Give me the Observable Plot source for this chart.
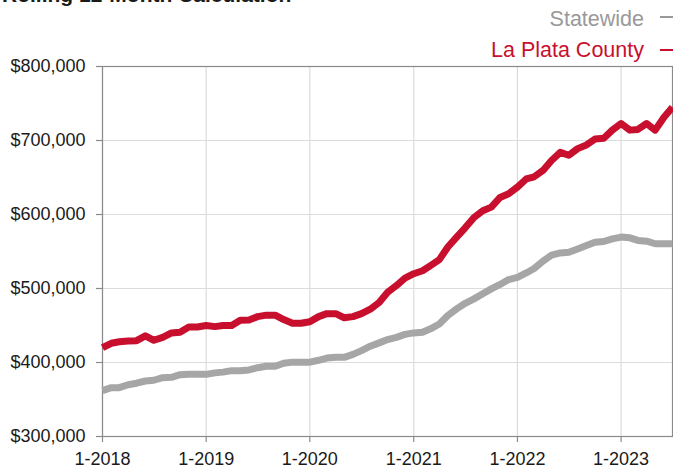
<!DOCTYPE html>
<html>
<head>
<meta charset="utf-8">
<script src="https://cdn.jsdelivr.net/npm/d3@7"></script>
<script src="https://cdn.jsdelivr.net/npm/@observablehq/plot@0.6"></script>
<style>
  html, body { margin: 0; padding: 0; background: #fff; }
  body { width: 673px; height: 468px; overflow: hidden; position: relative; font-family: "Liberation Sans", Arial, sans-serif; }
  #chart { position: absolute; left: 0; top: 0; z-index: 0; }
  #title { position: absolute; left: 2px; top: -17px; font-size: 21px; font-weight: bold; color: #1a1a1a; white-space: nowrap; z-index: 2; }
  .leg { position: absolute; right: 29px; font-size: 21.5px; white-space: nowrap; line-height: 1; z-index: 2; }
  .dash { position: absolute; left: 660px; width: 20px; height: 2px; z-index: 2; }
</style>
</head>
<body>
<div id="chart"></div>
<div id="title">Rolling 12-Month Calculation</div>
<div class="leg" style="top:9px;color:#999999;">Statewide</div>
<div class="dash" style="top:16px;background:#999999;"></div>
<div class="leg" style="top:40px;color:#c8102e;">La Plata County</div>
<div class="dash" style="top:49px;background:#c8102e;"></div>
<script>
// Months: 1-2018 through 7-2023
const months = d3.utcMonth.range(new Date(Date.UTC(2018, 0, 1)), new Date(Date.UTC(2023, 7, 1)));

const laPlata = [
  420000, 426000, 428000, 429000, 429500, 436000, 430000, 434000, 440000, 441000, 448000, 448000,
  450000, 448500, 450000, 450000, 457000, 457500, 462000, 464000, 464000, 458000, 453000, 453000,
  455000, 462000, 466000, 466000, 460500, 462000, 466000, 472000, 481000, 495000, 504000, 514000,
  520000, 524000, 531000, 539000, 556000, 569500, 582000, 596000, 605000, 610000, 623000, 628000,
  637000, 648000, 651000, 659500, 673000, 684000, 680000, 689000, 694000, 702000, 703000, 714000,
  723000, 714000, 715000, 723000, 714000, 731500, 745000
];

const statewide = [
  362000, 366000, 366000, 370000, 372000, 375000, 376000, 379500, 380000, 383500, 384000, 384000,
  384000, 386000, 387000, 389000, 389000, 390000, 393000, 395000, 395000, 399000, 400500, 400500,
  400500, 403000, 406000, 407000, 407000, 411000, 416000, 422000, 426500, 431000, 434000, 438000,
  440000, 441000, 445500, 452000, 463500, 472500, 480000, 486000, 493000, 499500, 505500, 512000,
  515000, 521000, 527000, 537000, 545000, 548000, 549000, 553500, 558000, 562500, 563500, 567000,
  569500, 568500, 565000, 564000, 560500, 560500, 560500
];

const yTicks = [300000, 400000, 500000, 600000, 700000, 800000];
const xTicks = [2018, 2019, 2020, 2021, 2022, 2023].map(y => new Date(Date.UTC(y, 0, 1)));

const stateData = months.map((d, i) => ({date: d, value: statewide[i]}));
const lpData = months.map((d, i) => ({date: d, value: laPlata[i]}));

const chart = Plot.plot({
  width: 673,
  height: 468,
  marginTop: 66,
  marginBottom: 32,
  marginLeft: 102,
  marginRight: 1,
  style: {fontFamily: "'Liberation Sans', Arial, sans-serif", fontSize: "18px", color: "#1a1a1a", background: "transparent", overflow: "visible"},
  x: {type: "utc", domain: [months[0], months[months.length - 1]]},
  y: {domain: [300000, 800000]},
  marks: [
    Plot.gridX(xTicks, {stroke: "#dcdcdc", strokeOpacity: 1, strokeWidth: 1.2}),
    Plot.gridY(yTicks, {stroke: "#dcdcdc", strokeOpacity: 1, strokeWidth: 1.2}),
    Plot.frame({stroke: "#8a8a8a", strokeWidth: 1.2}),
    Plot.axisX(xTicks, {
      tickSize: 6, tickPadding: 10, stroke: "#8a8a8a", strokeWidth: 1.2,
      tickFormat: d => `${d.getUTCMonth() + 1}-${d.getUTCFullYear()}`, label: null
    }),
    Plot.axisY(yTicks, {
      tickSize: 6, tickPadding: 11, stroke: "#8a8a8a", strokeWidth: 1.2,
      tickFormat: d => "$" + d3.format(",")(d), label: null
    }),
    Plot.line(stateData, {x: "date", y: "value", stroke: "#a6a6a6", strokeWidth: 7, strokeLinejoin: "round", strokeLinecap: "butt"}),
    Plot.line(lpData, {x: "date", y: "value", stroke: "#c8102e", strokeWidth: 7, strokeLinejoin: "round", strokeLinecap: "butt"})
  ]
});
document.getElementById("chart").appendChild(chart);
</script>
</body>
</html>
